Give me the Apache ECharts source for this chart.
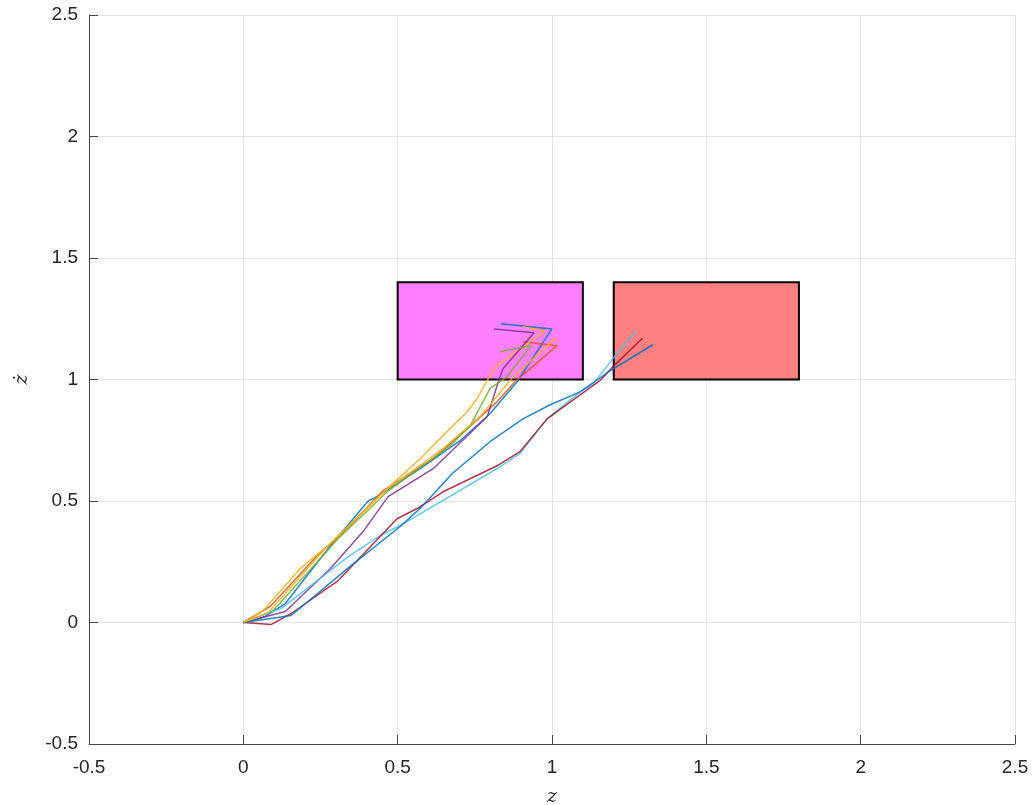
<!DOCTYPE html>
<html>
<head>
<meta charset="utf-8">
<script src="https://cdn.jsdelivr.net/npm/echarts@6/dist/echarts.min.js"></script>
<style>
  html, body { margin: 0; padding: 0; background: #fff; }
  #chart { width: 1035px; height: 805px; }
</style>
</head>
<body>
<div id="chart"></div>
<script>
// Axis ticks
const xTicks = [-0.5, 0, 0.5, 1, 1.5, 2, 2.5];
const yTicks = [-0.5, 0, 0.5, 1, 1.5, 2, 2.5];

// Target regions: [zMin, zDotMin, zMax, zDotMax]
const regionNear = [0.5, 1.0, 1.1, 1.4];
const regionFar = [1.2, 1.0, 1.8, 1.4];

// Phase-plane trajectories [z, zDot]
const traj1 = [[0,0],[0.071,0.025],[0.136,0.078],[0.282,0.316],[0.405,0.501],[0.434,0.518],[0.573,0.633],[0.702,0.748],[0.799,0.859],[0.887,0.991],[1.000,1.208],[0.835,1.229]];
const traj2 = [[0,0],[0.087,0.066],[0.239,0.275],[0.314,0.358],[0.453,0.543],[0.615,0.674],[0.725,0.797],[0.822,0.908],[0.880,0.991],[1.016,1.139],[0.906,1.155]];
const traj3 = [[0,0],[0.065,0.049],[0.184,0.222],[0.282,0.325],[0.466,0.551],[0.573,0.674],[0.647,0.769],[0.725,0.867],[0.757,0.921],[0.793,1.003],[0.822,1.056],[0.977,1.200],[0.906,1.217]];
const traj4 = [[0,0],[0.136,0.045],[0.282,0.222],[0.388,0.374],[0.469,0.518],[0.615,0.633],[0.790,0.847],[0.822,0.974],[0.841,1.044],[0.942,1.192],[0.812,1.208]];
const traj5 = [[0,0],[0.097,0.049],[0.307,0.345],[0.466,0.538],[0.670,0.728],[0.735,0.810],[0.799,0.962],[0.854,1.011],[0.932,1.139],[0.832,1.114]];
const traj6 = [[0,0],[0.123,0.058],[0.340,0.271],[0.443,0.358],[0.508,0.399],[0.832,0.641],[0.896,0.695],[0.984,0.838],[1.091,0.949],[1.133,0.982],[1.197,1.085],[1.272,1.200]];
const traj7 = [[0,0],[0.091,-0.008],[0.155,0.037],[0.304,0.169],[0.498,0.427],[0.563,0.469],[0.647,0.538],[0.822,0.645],[0.896,0.703],[0.984,0.838],[1.155,0.995],[1.197,1.052],[1.294,1.171]];
const traj8 = [[0,0],[0.155,0.029],[0.337,0.222],[0.508,0.395],[0.579,0.477],[0.676,0.612],[0.799,0.744],[0.906,0.838],[0.994,0.896],[1.091,0.949],[1.188,1.036],[1.327,1.143]];
const traj9 = [[0,0],[0.081,0.041],[0.265,0.304],[0.460,0.543],[0.638,0.707],[0.767,0.847],[0.874,1.011],[1.013,1.171]];

const palette = ['#0072BD', '#D95319', '#EDB120', '#7E2F8E', '#77AC30', '#4DBEEE', '#A2142F', '#0072BD', '#EDB120'];
const trajectories = [traj1, traj2, traj3, traj4, traj5, traj6, traj7, traj8, traj9];

const tickFont = { fontFamily: 'Liberation Sans, Arial, sans-serif', fontSize: 19, color: '#262626' };

const chart = echarts.init(document.getElementById('chart'), null, { renderer: 'canvas' });

function boxArea(r, fill) {
  return [{ coord: [r[0], r[1]], itemStyle: { color: fill, borderColor: '#000', borderWidth: 2, opacity: 1 } },
          { coord: [r[2], r[3]] }];
}

const series = [{
  type: 'line',
  data: [],
  z: 1,
  silent: true,
  markArea: {
    silent: true,
    data: [boxArea(regionNear, '#FF80FF'), boxArea(regionFar, '#FF8080')]
  }
}];

trajectories.forEach((t, i) => {
  series.push({
    type: 'line',
    data: t,
    z: 3,
    symbol: 'none',
    silent: true,
    animation: false,
    lineStyle: { color: palette[i], width: 1.5, opacity: 0.85 }
  });
});

chart.setOption({
  animation: false,
  grid: { left: 89, right: 20, top: 15, bottom: 61, containLabel: false, outerBoundsMode: 'none' },
  xAxis: {
    type: 'value',
    min: -0.5, max: 2.5, interval: 0.5,
    name: 'z',
    nameLocation: 'middle',
    nameGap: 44,
    nameTextStyle: { fontFamily: 'DejaVu Serif, Liberation Serif, serif', fontStyle: 'italic', fontSize: 19, color: '#262626' },
    axisLine: { show: true, onZero: false, lineStyle: { color: '#444', width: 1 } },
    axisTick: { show: true, inside: true, length: 9, lineStyle: { color: '#444' } },
    axisLabel: Object.assign({ margin: 14, formatter: v => xTicks.includes(v) ? String(v) : '' }, tickFont),
    splitLine: { show: true, lineStyle: { color: '#e3e3e3', width: 1 } }
  },
  yAxis: {
    type: 'value',
    min: -0.5, max: 2.5, interval: 0.5,
    name: 'ż',
    nameLocation: 'middle',
    nameGap: 57,
    nameRotate: 90,
    nameTextStyle: { fontFamily: 'DejaVu Serif, Liberation Serif, serif', fontStyle: 'italic', fontSize: 19, color: '#262626' },
    axisLine: { show: true, onZero: false, lineStyle: { color: '#444', width: 1 } },
    axisTick: { show: true, inside: true, length: 9, lineStyle: { color: '#444' } },
    axisLabel: Object.assign({ margin: 11, formatter: v => yTicks.includes(v) ? String(v) : '' }, tickFont),
    splitLine: { show: true, lineStyle: { color: '#e3e3e3', width: 1 } }
  },
  series: series
});
</script>
</body>
</html>
